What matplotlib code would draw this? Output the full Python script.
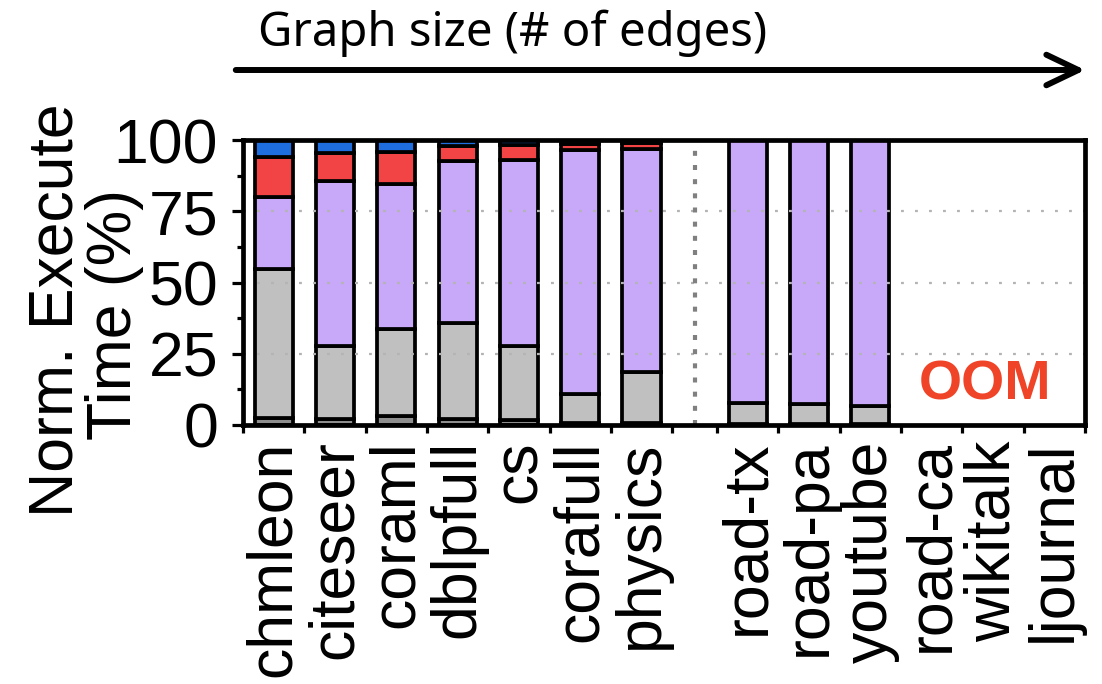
import numpy as np
import matplotlib
matplotlib.use("Agg")
import matplotlib.pyplot as plt
from matplotlib.ticker import MultipleLocator

categories = ["chmleon", "citeseer", "coraml", "dblpfull", "cs", "corafull", "physics",
              "road-tx", "road-pa", "youtube", "road-ca", "wikitalk", "ljournal"]
seg_dark   = [2.5, 2.0, 3.0, 2.0, 1.7, 0.8, 0.8, 0.5, 0.5, 0.5, 0, 0, 0]
seg_gray   = [52.1, 25.7, 30.6, 33.9, 26.0, 10.1, 17.7, 7.1, 6.9, 6.2, 0, 0, 0]
seg_purple = [25.5, 58.0, 50.8, 56.8, 65.3, 85.6, 78.2, 92.4, 92.6, 93.3, 0, 0, 0]
seg_red    = [13.8, 9.8, 11.5, 5.3, 5.2, 2.1, 2.1, 0, 0, 0, 0, 0, 0]
seg_blue   = [6.1, 4.5, 4.1, 2.0, 1.8, 1.4, 1.2, 0, 0, 0, 0, 0, 0]
yticks = [0, 25, 50, 75, 100]

segments = [seg_dark, seg_gray, seg_purple, seg_red, seg_blue]
colors = ["#8e8e8e", "#c0c0c0", "#c8a8f8", "#f24444", "#1e6ee0"]

plt.rcParams['font.family'] = ['Liberation Sans', 'DejaVu Sans']

fig = plt.figure(figsize=(11.02, 6.84), dpi=100)
ax = fig.add_axes([243/1102, 1-425/684, (1085-243)/1102, (425-140)/684])

gap = 0.734
n_small = 7
xpos = np.array([i if i < n_small else i + gap for i in range(len(categories))], dtype=float)
width = 0.62

bottom = np.zeros(len(categories))
for seg, col in zip(segments, colors):
    seg = np.array(seg, dtype=float)
    mask = seg > 0
    ax.bar(xpos[mask], seg[mask], width=width, bottom=bottom[mask], color=col,
           edgecolor='black', linewidth=2.7, zorder=2)
    bottom += seg

# grid on top of bars
for y in yticks[1:-1]:
    ax.axhline(y, color='#b4b4b4', lw=1.6, linestyle=(0, (1.3, 5)), zorder=3)

# separator
ax.axvline(n_small - 0.5 + gap / 2, color='#808080', lw=3.0,
           linestyle=(0, (1.2, 2.2)), zorder=3)

ax.set_xlim(-0.5, len(categories) - 0.5 + gap)
ax.set_ylim(0, 100)
edges = [i - 0.5 for i in range(n_small + 1)] + \
        [n_small - 0.5 + gap + j for j in range(len(categories) - n_small + 1)]
ax.set_xticks(edges)
ax.set_xticklabels([])
ax.set_xticks(xpos, minor=True)
ax.set_xticklabels(categories, minor=True, rotation=90, fontsize=45, va='top', ha='center')
ax.tick_params(axis='x', which='major', direction='out', length=6, width=2.3)
ax.tick_params(axis='x', which='minor', length=0, pad=11)

ax.set_yticks(yticks)
ax.set_yticklabels([str(v) for v in yticks], fontsize=45)
ax.yaxis.set_minor_locator(MultipleLocator(12.5))
ax.tick_params(axis='y', which='major', direction='out', length=8, width=2.3, pad=10)
ax.tick_params(axis='y', which='minor', direction='out', length=4, width=2.3)

for s in ax.spines.values():
    s.set_linewidth(3.4)
    s.set_zorder(4)

ax.text(11.6, 14, "OOM", color='#f04428', fontsize=40, fontweight='bold',
        ha='center', va='center', zorder=5)

fig.text(56/1102, 1-310/684, "Norm. Execute", rotation=90, fontsize=45,
         ha='center', va='center')
fig.text(114/1102, 1-315/684, "Time (%)", rotation=90, fontsize=45,
         ha='center', va='center')

fig.text(258/1102, 1-33/684, "Graph size (# of edges)", fontsize=34,
         family=['Noto Sans', 'DejaVu Sans'], ha='left', va='center')

fig.patches.append(matplotlib.patches.FancyArrowPatch(
    (233/1102, 1-70/684), (1088/1102, 1-70/684), transform=fig.transFigure,
    arrowstyle='->, head_length=1.15, head_width=0.55', mutation_scale=20,
    lw=4.3, color='black', capstyle='round', joinstyle='round'))

fig.savefig("out.png", dpi=100)
